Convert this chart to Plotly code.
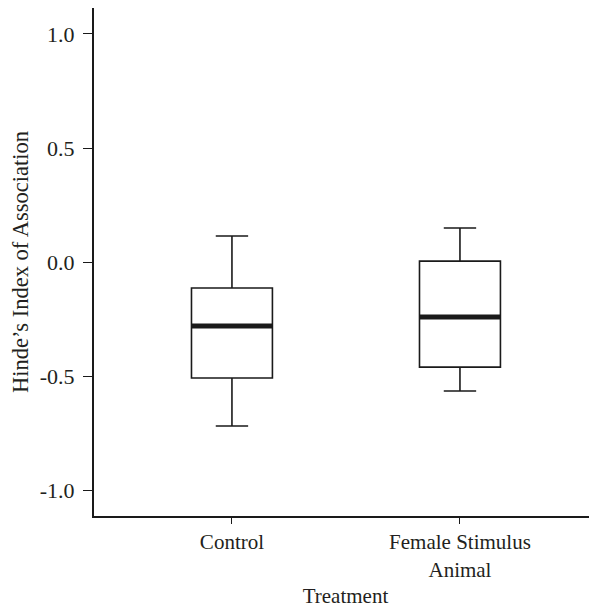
import plotly.graph_objects as go

categories = ["Control", "Female Stimulus<br>Animal"]
upper_whisker = [0.114, 0.149]
q3_vals = [-0.114, 0.004]
medians = [-0.281, -0.241]
q1_vals = [-0.509, -0.461]
lower_whisker = [-0.719, -0.566]

y_ticks = [1.0, 0.5, 0.0, -0.5, -1.0]
y_ticklabels = ["1.0", "0.5", "0.0", "-0.5", "-1.0"]

font_family = "Liberation Serif, Times New Roman, serif"
text_color = "#231f20"

fig = go.Figure()
fig.add_trace(go.Box(
    x=categories,
    q1=q1_vals, median=medians, q3=q3_vals,
    lowerfence=lower_whisker, upperfence=upper_whisker,
    width=0.355, whiskerwidth=0.4,
    fillcolor="white",
    line=dict(color="#1a1a1a", width=1.6),
    boxpoints=False, showlegend=False, hoverinfo="skip",
))
# thick median line drawn as a degenerate box
fig.add_trace(go.Box(
    x=categories,
    q1=medians, median=medians, q3=medians,
    lowerfence=medians, upperfence=medians,
    width=0.355, whiskerwidth=0,
    fillcolor="rgba(0,0,0,0)",
    line=dict(color="#1a1a1a", width=5),
    boxpoints=False, showlegend=False, hoverinfo="skip",
))

fig.update_layout(
    width=589, height=601,
    margin=dict(l=86, r=0, t=0, b=93, autoexpand=False),
    plot_bgcolor="white", paper_bgcolor="white",
    boxmode="overlay",
    font=dict(family=font_family, size=21, color=text_color),
    xaxis=dict(
        type="category",
        range=[-0.605, 1.601],
        showline=True, linecolor="#1a1a1a", linewidth=2,
        ticks="outside", ticklen=6, tickwidth=1, tickcolor="#1a1a1a",
        showgrid=False, zeroline=False, automargin=False,
        tickfont=dict(family=font_family, size=21, color=text_color),
        title=dict(text="Treatment", font=dict(family=font_family, size=21, color=text_color), standoff=8),
    ),
    yaxis=dict(
        range=[-1.114, 1.114],
        tickvals=y_ticks, ticktext=y_ticklabels,
        showline=True, linecolor="#1a1a1a", linewidth=2,
        ticks="outside", ticklen=9, tickwidth=1, tickcolor="#1a1a1a",
        ticklabelstandoff=4,
        showgrid=False, zeroline=False, automargin=False,
        tickfont=dict(family=font_family, size=22, color=text_color),
        title=dict(text="Hinde’s Index of Association", font=dict(family=font_family, size=22.5, color=text_color), standoff=17),
    ),
)

fig.write_html("out.html")
